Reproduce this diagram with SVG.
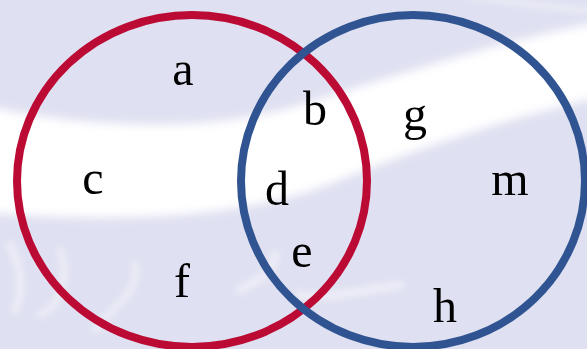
<svg xmlns="http://www.w3.org/2000/svg" width="587" height="349" viewBox="0 0 587 349">
  <style>
    .set { fill: none; stroke-width: 8; }
    .red { stroke: #bb0a33; }
    .blue { stroke: #2f5491; }
    .lbl { font-family: "Liberation Serif", "DejaVu Serif", serif; font-size: 48px; fill: #000; text-anchor: middle; }
    .mark { fill: none; stroke: #ffffff; stroke-linecap: round; opacity: 0.4; }
  </style>
  <defs>
    <filter id="soft" x="-10%" y="-30%" width="120%" height="160%">
      <feGaussianBlur stdDeviation="5"/>
    </filter>
    <filter id="haze" x="-20%" y="-20%" width="140%" height="140%">
      <feGaussianBlur stdDeviation="3"/>
    </filter>
  </defs>

  <!-- backdrop -->
  <rect x="0" y="0" width="587" height="349" fill="#dfe0f1"/>
  <path d="M-20,105 C100,132 220,130 300,105 C400,75 500,40 610,20 L610,95 C520,115 440,140 340,180 C250,218 120,224 -20,212 Z" fill="#ffffff" filter="url(#soft)"/>
  <path d="M470,-4 C520,4 560,8 600,12" class="mark" stroke-width="6" filter="url(#haze)"/>

  <!-- faint backdrop flourishes -->
  <g filter="url(#haze)">
    <path d="M10,245 C20,265 25,290 15,310" class="mark" stroke-width="9"/>
    <path d="M60,250 C70,280 60,305 40,315" class="mark" stroke-width="8"/>
    <path d="M95,330 C120,300 140,290 135,265" class="mark" stroke-width="8"/>
    <path d="M240,290 C260,280 275,270 275,255" class="mark" stroke-width="10"/>
    <path d="M300,295 C330,300 360,290 400,285" class="mark" stroke-width="10"/>
  </g>

  <!-- sets -->
  <g id="set-left">
    <ellipse class="set red" cx="192" cy="181" rx="175" ry="166"/>
  </g>
  <g id="set-right">
    <ellipse class="set blue" cx="413" cy="181" rx="172" ry="166"/>
  </g>

  <!-- element labels -->
  <g id="labels">
    <text class="lbl" x="183" y="85">a</text>
    <text class="lbl" x="315" y="125">b</text>
    <text class="lbl" x="415" y="130">g</text>
    <text class="lbl" x="93" y="194">c</text>
    <text class="lbl" x="277" y="205">d</text>
    <text class="lbl" x="510" y="195">m</text>
    <text class="lbl" x="302" y="267">e</text>
    <text class="lbl" x="182" y="297">f</text>
    <text class="lbl" x="445" y="322">h</text>
  </g>
</svg>
